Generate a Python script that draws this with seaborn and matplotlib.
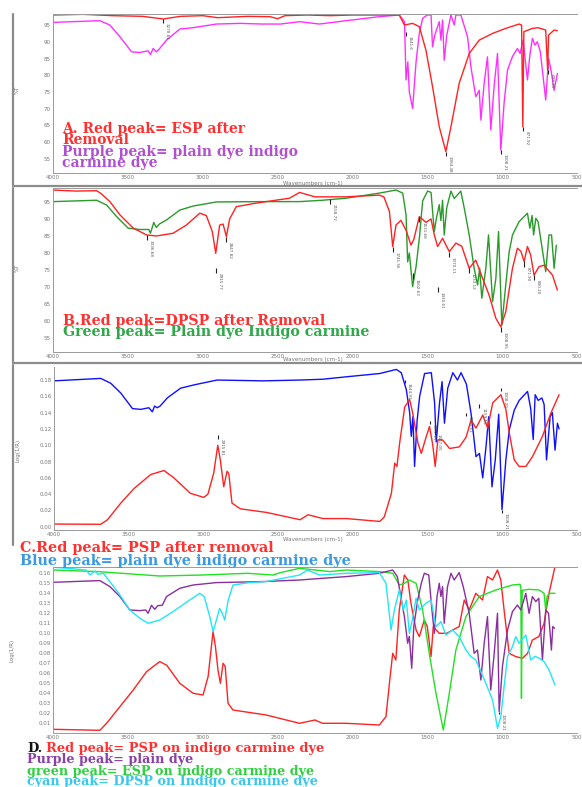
import numpy as np
import pandas as pd
import matplotlib
matplotlib.use("Agg")
import matplotlib.pyplot as plt
import seaborn as sns
from matplotlib.ticker import MultipleLocator, FormatStrFormatter

sns.set_style("white")
plt.rcParams['font.family'] = ['DejaVu Sans']

# ---------------- data ----------------
# Panel A (%T)
a_purple_wn = [4000,3687,3620,3553,3475,3420,3365,3349,3331,3309,3291,3242,3153,3067,2909,2750,2600,2480,2353,2220,2042,1820,1687,1652,1642,1630,1620,1598,1575,1553,1531,1500,1475,1465,1450,1420,1409,1398,1387,1370,1342,1320,1309,1276,1255,1231,1209,1176,1153,1142,1120,1098,1076,1053,1031,1009,987,964,931,898,880,860,831,815,798,780,765,745,709,690,675,653,631]
a_purple_t = [95.8,96.3,95.0,91.5,87.0,86.8,87.3,86.2,88.0,87.0,87.8,90.5,93.8,94.2,95.3,95.5,95.3,95.3,96.0,95.3,96.3,97.5,98.0,96.0,78.6,84.0,75.0,70.1,84.0,92.6,97.0,98.0,98.0,88.5,92.0,96.0,90.5,96.5,84.5,92.0,98.0,95.0,98.0,98.0,95.0,91.5,82.6,73.6,75.5,66.6,77.6,85.5,63.7,77.0,86.5,57.7,71.7,81.6,85.6,88.0,86.5,90.5,78.6,86.0,91.0,89.0,90.0,87.0,72.6,85.0,82.0,75.5,80.5]
a_red_wn = [4000,3800,3600,3400,3264,3150,3000,2900,2700,2550,2500,2450,2300,2150,2000,1687,1653,1598,1553,1509,1465,1420,1376,1342,1287,1220,1153,1064,976,887,870,862,855,798,760,709,700,696,690,653,631]
a_red_t = [98.0,98.2,97.8,97.6,96.8,97.6,97.8,97.2,97.6,97.5,96.9,97.8,98.0,97.8,98.0,98.0,95.0,95.5,94.5,87.5,76.6,64.6,57.2,64.6,77.6,86.5,90.5,92.5,94.0,95.3,95.0,64.6,93.0,94.0,94.2,93.5,85.0,81.6,92.0,93.5,93.3]

# Panel B (%T)
b_green_wn = [4000,3709,3642,3575,3498,3420,3360,3349,3327,3310,3290,3242,3153,3064,2909,2600,2353,2200,2042,1820,1709,1664,1642,1631,1620,1598,1575,1553,1531,1498,1475,1453,1440,1420,1409,1398,1387,1370,1342,1320,1276,1250,1220,1187,1164,1150,1136,1109,1091,1064,1042,1024,1002,976,953,931,887,831,815,800,790,775,760,709,687,670,653,638]
b_green_t = [95.1,95.5,94.1,90.7,87.3,86.9,86.9,85.8,89.0,87.5,88.5,89.7,92.6,93.8,95.0,95.1,95.1,95.5,96.1,97.6,98.5,97.6,91.2,77.4,80.0,70.1,76.0,84.3,95.3,98.2,97.8,86.3,90.0,94.2,89.5,95.5,85.3,93.3,98.2,96.0,98.2,92.5,85.3,75.5,70.6,75.5,66.7,75.5,85.3,65.7,72.5,86.3,58.8,70.6,80.4,85.3,89.2,91.7,87.3,91.0,85.3,90.2,89.2,74.5,85.3,85.3,75.5,82.3]
b_red_wn = [4000,3850,3709,3680,3620,3553,3464,3375,3309,3198,3109,3020,2976,2936,2913,2887,2864,2842,2820,2776,2664,2576,2420,2353,2250,2042,1820,1790,1753,1731,1709,1676,1640,1609,1590,1553,1509,1475,1453,1431,1398,1353,1309,1270,1220,1176,1131,1087,1042,1009,976,931,898,875,853,831,810,787,753,720,664,631]
b_red_t = [98.5,98.2,98.3,97.5,95.1,91.2,87.3,85.3,85.0,85.8,88.2,91.7,91.0,86.3,79.9,88.2,88.5,84.8,90.0,93.6,94.5,95.1,96.1,97.8,96.5,96.5,97.0,96.5,92.2,81.9,88.2,89.6,86.5,82.3,84.0,90.7,89.0,90.0,85.3,81.9,84.3,80.4,82.9,82.0,75.5,77.9,72.6,67.6,60.8,58.3,62.7,75.5,81.4,80.5,77.5,81.9,79.5,73.5,76.0,76.4,73.5,69.1]

# Panel C (Log(1/R))
c_blue_wn = [4000,3687,3620,3553,3475,3420,3365,3342,3327,3309,3290,3242,3153,3064,2909,2600,2353,2200,2042,1820,1709,1676,1642,1620,1609,1598,1587,1570,1553,1520,1475,1453,1442,1420,1403,1387,1365,1331,1300,1276,1240,1209,1176,1153,1131,1109,1091,1069,1047,1024,1002,976,953,920,887,831,810,793,780,760,735,720,704,680,665,647,631,620]
c_blue_a = [0.179,0.182,0.176,0.164,0.145,0.144,0.146,0.141,0.148,0.146,0.148,0.158,0.170,0.174,0.180,0.179,0.180,0.181,0.184,0.188,0.193,0.189,0.168,0.140,0.111,0.135,0.074,0.130,0.160,0.188,0.189,0.152,0.104,0.152,0.178,0.127,0.170,0.189,0.180,0.189,0.175,0.139,0.086,0.090,0.060,0.098,0.135,0.049,0.082,0.138,0.021,0.082,0.119,0.143,0.155,0.166,0.145,0.107,0.162,0.155,0.158,0.150,0.082,0.135,0.140,0.094,0.127,0.120]
c_red_wn = [4000,3687,3642,3553,3464,3353,3264,3198,3087,2998,2970,2931,2904,2887,2864,2842,2830,2809,2753,2576,2353,2300,2200,2042,1820,1790,1742,1720,1705,1687,1653,1620,1600,1564,1542,1510,1487,1465,1449,1431,1400,1353,1287,1242,1209,1176,1131,1098,1064,1009,976,953,920,887,842,798,731,676,620]
c_red_a = [0.0033,0.003,0.0086,0.029,0.047,0.064,0.069,0.060,0.041,0.036,0.040,0.066,0.100,0.082,0.049,0.068,0.065,0.029,0.022,0.0175,0.0086,0.0147,0.010,0.010,0.0065,0.012,0.041,0.078,0.074,0.1025,0.147,0.156,0.140,0.1025,0.090,0.110,0.123,0.100,0.074,0.1066,0.1066,0.096,0.098,0.110,0.131,0.121,0.137,0.121,0.152,0.162,0.144,0.115,0.082,0.074,0.074,0.086,0.111,0.139,0.162]

# Panel D (Log(1/R))
d_purple_wn = [4000,3687,3620,3553,3487,3420,3380,3365,3342,3320,3300,3270,3242,3153,3064,2909,2600,2353,2200,2042,1820,1731,1700,1653,1631,1620,1604,1590,1564,1540,1520,1490,1471,1453,1435,1420,1409,1398,1387,1365,1342,1320,1287,1260,1220,1187,1165,1142,1120,1098,1076,1053,1031,1020,998,964,931,898,875,842,820,798,775,755,731,709,690,671,662,650]
d_purple_a = [0.151,0.1527,0.1467,0.1367,0.1233,0.1227,0.1233,0.120,0.128,0.124,0.1277,0.128,0.1367,0.145,0.1483,0.1507,0.1517,0.1533,0.155,0.1567,0.160,0.1633,0.1567,0.1167,0.090,0.097,0.065,0.107,0.1333,0.150,0.160,0.1583,0.1267,0.100,0.1367,0.150,0.1367,0.1467,0.110,0.1467,0.160,0.1533,0.1607,0.1467,0.120,0.080,0.0833,0.0533,0.090,0.1167,0.0433,0.080,0.120,0.0217,0.0667,0.1033,0.1217,0.1283,0.1233,0.140,0.120,0.1367,0.1317,0.135,0.0733,0.1233,0.120,0.0833,0.1067,0.105]
d_green_wn = [4000,3700,3287,3000,2700,2531,2480,2353,2150,2042,1820,1731,1687,1653,1620,1575,1531,1487,1442,1393,1353,1309,1242,1153,1042,931,880,875,871,866,820,753,720,709,700,680,647]
d_green_a = [0.1633,0.1617,0.1573,0.1583,0.160,0.1583,0.1607,0.165,0.1617,0.1633,0.1617,0.160,0.1483,0.150,0.1533,0.150,0.1233,0.080,0.040,0.0033,0.040,0.0833,0.1167,0.1367,0.1433,0.1483,0.149,0.145,0.035,0.143,0.144,0.1433,0.140,0.1233,0.137,0.140,0.140]
d_cyan_wn = [4000,3900,3780,3753,3720,3700,3664,3620,3553,3487,3420,3365,3287,3198,3087,3020,2990,2953,2931,2909,2887,2870,2853,2830,2798,2687,2576,2353,2300,2220,2042,1820,1776,1742,1720,1687,1660,1640,1620,1600,1575,1553,1510,1475,1442,1409,1376,1331,1287,1242,1209,1176,1142,1109,1064,1031,1009,987,964,931,909,887,842,809,780,753,720,687,647]
d_cyan_a = [0.166,0.165,0.1633,0.1583,0.1623,0.159,0.160,0.1517,0.1383,0.1233,0.115,0.110,0.1133,0.1217,0.1333,0.140,0.1367,0.1167,0.1017,0.113,0.125,0.120,0.1133,0.133,0.1483,0.1507,0.1517,0.1583,0.1633,0.1583,0.160,0.1607,0.150,0.1033,0.1233,0.1433,0.1233,0.1333,0.100,0.1133,0.135,0.1233,0.130,0.1333,0.1067,0.1117,0.0983,0.1033,0.0967,0.0833,0.0767,0.0733,0.0617,0.050,0.0333,0.005,0.0167,0.0467,0.0767,0.0867,0.0967,0.090,0.0983,0.0733,0.077,0.075,0.0717,0.0633,0.0483]
d_red_wn = [4000,3687,3642,3553,3464,3375,3287,3240,3153,3064,2998,2964,2942,2931,2915,2898,2882,2864,2850,2831,2798,2576,2353,2250,2200,2042,1820,1776,1753,1731,1710,1687,1653,1630,1609,1575,1553,1520,1500,1475,1460,1440,1420,1370,1330,1287,1253,1220,1176,1131,1098,1064,1031,1009,987,953,909,864,830,798,755,720,687,642]
d_red_a = [0.004,0.003,0.010,0.0267,0.0433,0.0617,0.0717,0.068,0.050,0.040,0.0383,0.0567,0.0867,0.1017,0.0867,0.0633,0.050,0.070,0.067,0.030,0.0233,0.0183,0.010,0.0133,0.010,0.010,0.0083,0.0167,0.050,0.080,0.0733,0.1233,0.1583,0.1533,0.130,0.1033,0.0967,0.1133,0.1067,0.0767,0.1067,0.1033,0.100,0.100,0.1033,0.1067,0.1333,0.1233,0.140,0.1333,0.1567,0.1533,0.1633,0.1533,0.1233,0.080,0.0767,0.075,0.080,0.0933,0.0967,0.110,0.140,0.170]

x_ticks = [4000, 3500, 3000, 2500, 2000, 1500, 1000, 500]

# peak annotations (wavenumber, value, label)
a_peaks = [(3264, 96.8, "3278.61"), (1376, 57.2, "1384.48"), (1009, 57.7, "1008.21"), (862, 64.6, "871.92"), (696, 81.6, "698.21"), (1642, 93.0, "1641.6")]
b_peaks = [(3375, 85.3, "3336.68"), (2913, 75.5, "2915.77"), (2842, 84.8, "2847.82"), (2153, 96.0, "2158.72"), (1731, 81.9, "1741.56"), (1598, 74.0, "1602.63"), (1553, 90.7, "1531.68"), (1431, 70.0, "1430.61"), (1353, 80.4, "1370.11"), (1220, 75.5, "1233.12"), (1009, 58.3, "1008.95"), (853, 77.5, "871.90"), (787, 73.5, "800.20")]
c_peaks = [(2904, 0.112, "2915.81"), (1653, 0.180, "1644.91"), (1487, 0.130, "1507.17"), (1449, 0.118, "1447.05"), (1242, 0.140, "1261.61"), (1153, 0.150, "1159.15"), (1009, 0.170, "1008.20"), (1002, 0.021, "1008.21")]
d_peaks = [(1020, 0.0217, "1008.21")]

# ---------------- figure ----------------
W, H = 582, 787
fig = plt.figure(figsize=(W / 100, H / 100), dpi=100, facecolor="white")


def ax_at(x0, y0, x1, y1):
    return fig.add_axes([x0 / W, 1 - y1 / H, (x1 - x0) / W, (y1 - y0) / H])


def style_ax(ax, ylim, ystep, fmt, top_spine=False):
    ax.set_xlim(4000, 500)
    ax.set_ylim(*ylim)
    ax.set_xticks(x_ticks)
    ax.xaxis.set_minor_locator(MultipleLocator(100))
    ax.yaxis.set_major_locator(MultipleLocator(ystep))
    ax.yaxis.set_minor_locator(MultipleLocator(ystep / 5))
    ax.yaxis.set_major_formatter(FormatStrFormatter(fmt))
    ax.tick_params(axis="both", which="major", labelsize=4.0, colors="#777777",
                   length=2.0, width=0.5, pad=0.6, direction="inout")
    ax.tick_params(axis="both", which="minor", length=1.2, width=0.4, colors="#888888", direction="inout")
    ax.spines["right"].set_visible(False)
    ax.spines["top"].set_visible(top_spine)
    for s in ["left", "bottom", "top"]:
        ax.spines[s].set_color("#9a9a9a")
        ax.spines[s].set_linewidth(0.7)
    ax.set_xlabel("")
    ax.set_ylabel("")
    ax.patch.set_alpha(0)
    ax.set_ylim(*ylim)


def draw(ax, wn, vals, color, lw=1.0):
    df = pd.DataFrame({"wn": wn, "v": vals})
    sns.lineplot(data=df, x="wn", y="v", sort=False, estimator=None, color=color,
                 lw=lw, ax=ax, legend=False)


def peaks(ax, plist, dy):
    for wn, v, lab in plist:
        y2 = v - dy
        ax.plot([wn, wn], [v, y2], color="#222222", lw=0.8, solid_capstyle="butt")
        ax.text(wn - 12, y2, lab, rotation=-90, fontsize=3.0, color="#555555",
                va="top", ha="left")


# Panel A
axA = ax_at(53, 14, 577, 173)
draw(axA, a_purple_wn, a_purple_t, "#ff30ff")
draw(axA, a_red_wn, a_red_t, "#ff2222")
style_ax(axA, (50.8, 98.3), 5, "%d", top_spine=True)
peaks(axA, a_peaks, 1.2)

# Panel B
axB = ax_at(53, 188, 577, 352)
draw(axB, b_green_wn, b_green_t, "#2a9a2a")
draw(axB, b_red_wn, b_red_t, "#ff2222")
style_ax(axB, (50.9, 99.1), 5, "%d", top_spine=True)
peaks(axB, b_peaks, 1.5)

# Panel C
axC = ax_at(54, 367, 577, 530)
draw(axC, c_blue_wn, c_blue_a, "#1010ff")
draw(axC, c_red_wn, c_red_a, "#ff2222")
style_ax(axC, (-0.004, 0.196), 0.02, "%.2f")
peaks(axC, c_peaks, 0.004)

# Panel D
axD = ax_at(53, 567, 577, 733)
draw(axD, d_red_wn, d_red_a, "#ff2222")
draw(axD, d_green_wn, d_green_a, "#22e022")
draw(axD, d_purple_wn, d_purple_a, "#8a2e9e")
draw(axD, d_cyan_wn, d_cyan_a, "#22e6f8")
style_ax(axD, (0.0003, 0.1663), 0.01, "%.2f", top_spine=True)
axD.yaxis.set_minor_locator(MultipleLocator(0.002))
peaks(axD, d_peaks, 0.002)

# axis labels (tiny)
for ylab, yc, xc in [("%T", 90, 17), ("%T", 268, 17), ("Log(1/R)", 450, 18), ("Log(1/R)", 650, 12)]:
    fig.text(xc / W, 1 - yc / H, ylab, rotation=90, fontsize=4.0, color="#777777", ha="center", va="center")
for yb in [183, 360, 539]:
    fig.text(283 / W, 1 - yb / H, "Wavenumbers (cm-1)", fontsize=4.0, color="#777777", ha="left", va="center")

# panel frames
def hline(y, x0=13, x1=590, lw=1.6, c="#8c8c8c"):
    fig.add_artist(plt.Line2D([x0 / W, x1 / W], [1 - y / H, 1 - y / H], color=c, lw=lw))


def vline(x, y0, y1, lw=1.6, c="#8c8c8c"):
    fig.add_artist(plt.Line2D([x / W, x / W], [1 - y0 / H, 1 - y1 / H], color=c, lw=lw))

vline(13, 14, 185)
hline(185.5)
vline(13, 188, 362)
hline(363)
vline(13, 365, 545)

# captions (baseline-anchored, tightly stacked like the reference)
SERIF = ["DejaVu Serif"]
def cap(x, y, s, color, size=10.0):
    fig.text(x / W, 1 - y / H, s, color=color, fontsize=size, fontweight="bold",
             family=SERIF, ha="left", va="baseline")

cap(62, 133, "A. Red peak= ESP after", "#ff3030", 10.0)
cap(62, 144.5, "Removal", "#ff3030", 10.0)
cap(62, 156, "Purple peak= plain dye indigo", "#b050d0", 10.0)
cap(62, 167.5, "carmine dye", "#b050d0", 10.0)

cap(63, 324.5, "B.Red peak=DPSP after Removal", "#ff3030", 10.2)
cap(63, 336, "Green peak= Plain dye Indigo carmine", "#2fa84a", 10.2)

cap(20, 552, "C.Red peak= PSP after removal", "#ff3030", 10.4)
cap(20, 565.5, "Blue peak= plain dye indigo carmine dye", "#3a9ae0", 10.4)

fig.text(27 / W, 1 - 752 / H, "D.", color="#111111", fontsize=9.4, fontweight="bold", family=SERIF, ha="left", va="baseline")
cap(46, 752, "Red peak= PSP on indigo carmine dye", "#ff3030", 9.4)
cap(27, 763.5, "Purple peak= plain dye", "#8a40a8", 9.2)
cap(27, 774.5, "green peak= ESP on indigo carmine dye", "#30d040", 9.2)
cap(27, 785, "cyan peak= DPSP on Indigo carmine dye", "#38c8ee", 9.2)

fig.savefig("out.png", dpi=100, facecolor="white")
